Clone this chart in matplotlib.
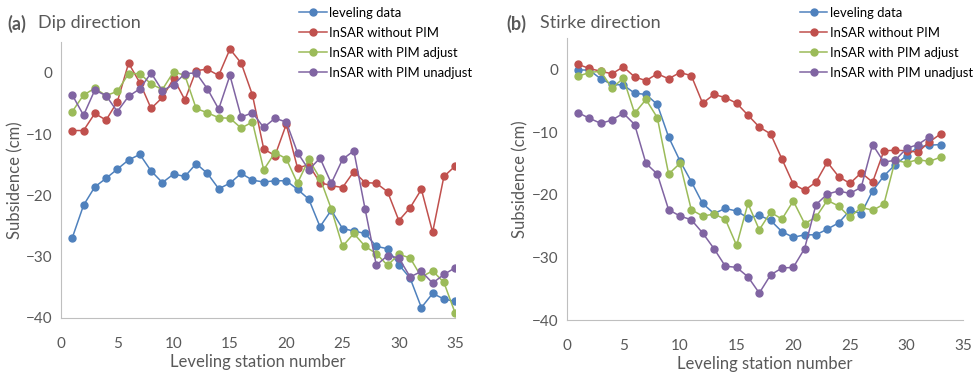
import matplotlib.pyplot as plt
import numpy as np

# station numbers
st_a = np.arange(1, 36)
st_b = np.arange(1, 34)

# (a) dip direction, subsidence in cm
lev_a = [-26.9, -21.6, -18.6, -17.2, -15.7, -14.2, -13.3, -16.0, -17.9, -16.5,
         -16.9, -14.8, -16.4, -18.9, -18.0, -16.4, -17.5, -17.8, -17.6, -17.6,
         -19.0, -20.6, -25.1, -22.4, -25.4, -25.8, -26.2, -28.3, -28.7, -31.3,
         -33.5, -38.3, -36.0, -36.9, -37.3]
nopim_a = [-9.4, -9.4, -6.6, -7.7, -4.7, 1.6, -1.6, -5.8, -4.0, -0.9,
           -4.4, 0.4, 0.6, -0.4, 3.9, 1.6, -3.6, -12.4, -13.5, -8.4,
           -15.5, -15.0, -17.9, -18.4, -18.7, -16.1, -17.9, -18.0, -19.4, -24.1,
           -22.0, -19.0, -26.0, -16.9, -15.2]
adj_a = [-6.3, -3.6, -2.5, -3.7, -3.0, -0.1, -0.1, -1.8, -2.7, 0.2,
         -0.4, -5.8, -6.5, -7.3, -7.4, -9.0, -8.0, -15.8, -13.0, -14.0,
         -18.0, -14.1, -17.2, -22.2, -28.3, -26.2, -28.3, -29.5, -31.4, -29.6,
         -30.2, -33.3, -32.3, -34.2, -39.2]
unadj_a = [-3.6, -6.9, -2.8, -3.7, -6.3, -3.8, -2.6, 0.0, -2.9, -1.9,
           -0.1, 0.0, -2.6, -5.9, -0.4, -7.2, -6.5, -8.9, -7.4, -8.0,
           -13.0, -15.8, -13.9, -18.0, -14.1, -12.7, -22.2, -31.4, -29.8, -30.2,
           -33.3, -32.4, -34.3, -32.9, -31.8]

# (b) strike direction
lev_b = [-0.1, -0.1, -1.5, -2.4, -2.5, -3.8, -4.0, -5.6, -10.8, -14.6,
         -17.9, -21.4, -23.0, -22.2, -22.6, -23.7, -23.3, -24.1, -25.9, -26.8,
         -26.4, -26.4, -25.5, -24.5, -22.5, -23.0, -19.4, -17.0, -15.2, -13.8,
         -12.4, -12.1, -12.0]
nopim_b = [0.8, 0.15, -0.3, -0.7, 0.4, -1.2, -1.8, -0.7, -1.5, -0.5,
           -1.0, -5.4, -4.0, -4.5, -5.4, -7.3, -9.2, -10.3, -14.3, -18.3,
           -19.3, -18.0, -14.8, -17.1, -18.2, -16.5, -18.0, -13.0, -12.9, -13.0,
           -13.2, -11.6, -10.3]
adj_b = [-1.1, -0.5, -0.3, -3.0, -1.4, -7.0, -4.8, -7.7, -16.7, -15.0,
         -22.4, -23.4, -23.1, -23.9, -28.1, -21.4, -25.6, -22.8, -23.9, -21.0,
         -24.6, -23.6, -20.9, -21.8, -23.6, -22.0, -22.5, -21.5, -14.5, -14.9,
         -14.4, -14.7, -14.0]
unadj_b = [-6.9, -7.8, -8.6, -8.1, -7.0, -8.8, -15.0, -16.7, -22.4, -23.4,
           -24.0, -26.1, -28.6, -31.4, -31.6, -33.1, -35.7, -32.8, -31.7, -31.6,
           -28.6, -21.6, -19.9, -19.4, -19.8, -18.8, -12.0, -14.8, -14.5, -12.6,
           -12.0, -10.8]

names = ['leveling data', 'InSAR without PIM', 'InSAR with PIM adjust', 'InSAR with PIM unadjust']
colors = ['#4F81BD', '#C0504D', '#9BBB59', '#8064A2']
grey = '#595959'

plt.rcParams['font.family'] = ['Lato', 'DejaVu Sans']

fig = plt.figure(figsize=(9.78, 3.73), dpi=100)
ax1 = fig.add_axes([0.0624, 0.1475, 0.403, 0.739])
ax2 = fig.add_axes([0.5794, 0.142, 0.4055, 0.756])


def panel(ax, x, series, leg_x):
    for i, y in enumerate(series):
        xx = x[:len(y)]
        ax.plot(xx, y, color=colors[i], lw=1.1, marker='o', ms=5, label=names[i])
    ax.set_xlim(0, 35)
    ax.set_ylim(-40, 5)
    ax.set_yticks([0, -10, -20, -30, -40])
    ax.set_xticks(range(0, 36, 5))
    for s in ['top', 'right']:
        ax.spines[s].set_visible(False)
    for s in ['left', 'bottom']:
        ax.spines[s].set_color('#BFBFBF')
    ax.tick_params(axis='both', length=0, labelsize=11, colors=grey)
    ax.tick_params(axis='x', pad=14)
    ax.tick_params(axis='y', pad=6)
    ax.set_xlabel('Leveling station number', fontsize=12, color=grey, labelpad=2)
    ax.set_ylabel('Subsidence (cm)', fontsize=12, color=grey, labelpad=2)
    ax.legend(loc='upper left', bbox_to_anchor=(leg_x, 0.982), bbox_transform=fig.transFigure,
              frameon=False, fontsize=9.4, handlelength=2.1, handletextpad=0.2,
              labelspacing=0.62, borderpad=0, borderaxespad=0)


panel(ax1, st_a, [lev_a, nopim_a, adj_a, unadj_a], 0.306)
panel(ax2, st_b, [lev_b, nopim_b, adj_b, unadj_b], 0.818)

fig.text(0.008, 0.937, '(a)', fontsize=13, fontweight='bold', color=grey, va='center')
fig.text(0.039, 0.937, 'Dip direction', fontsize=13, color=grey, va='center')
fig.text(0.518, 0.937, '(b)', fontsize=13, fontweight='bold', color=grey, va='center')
fig.text(0.552, 0.937, 'Stirke direction', fontsize=13, color=grey, va='center')

fig.savefig('out.png', dpi=100)
